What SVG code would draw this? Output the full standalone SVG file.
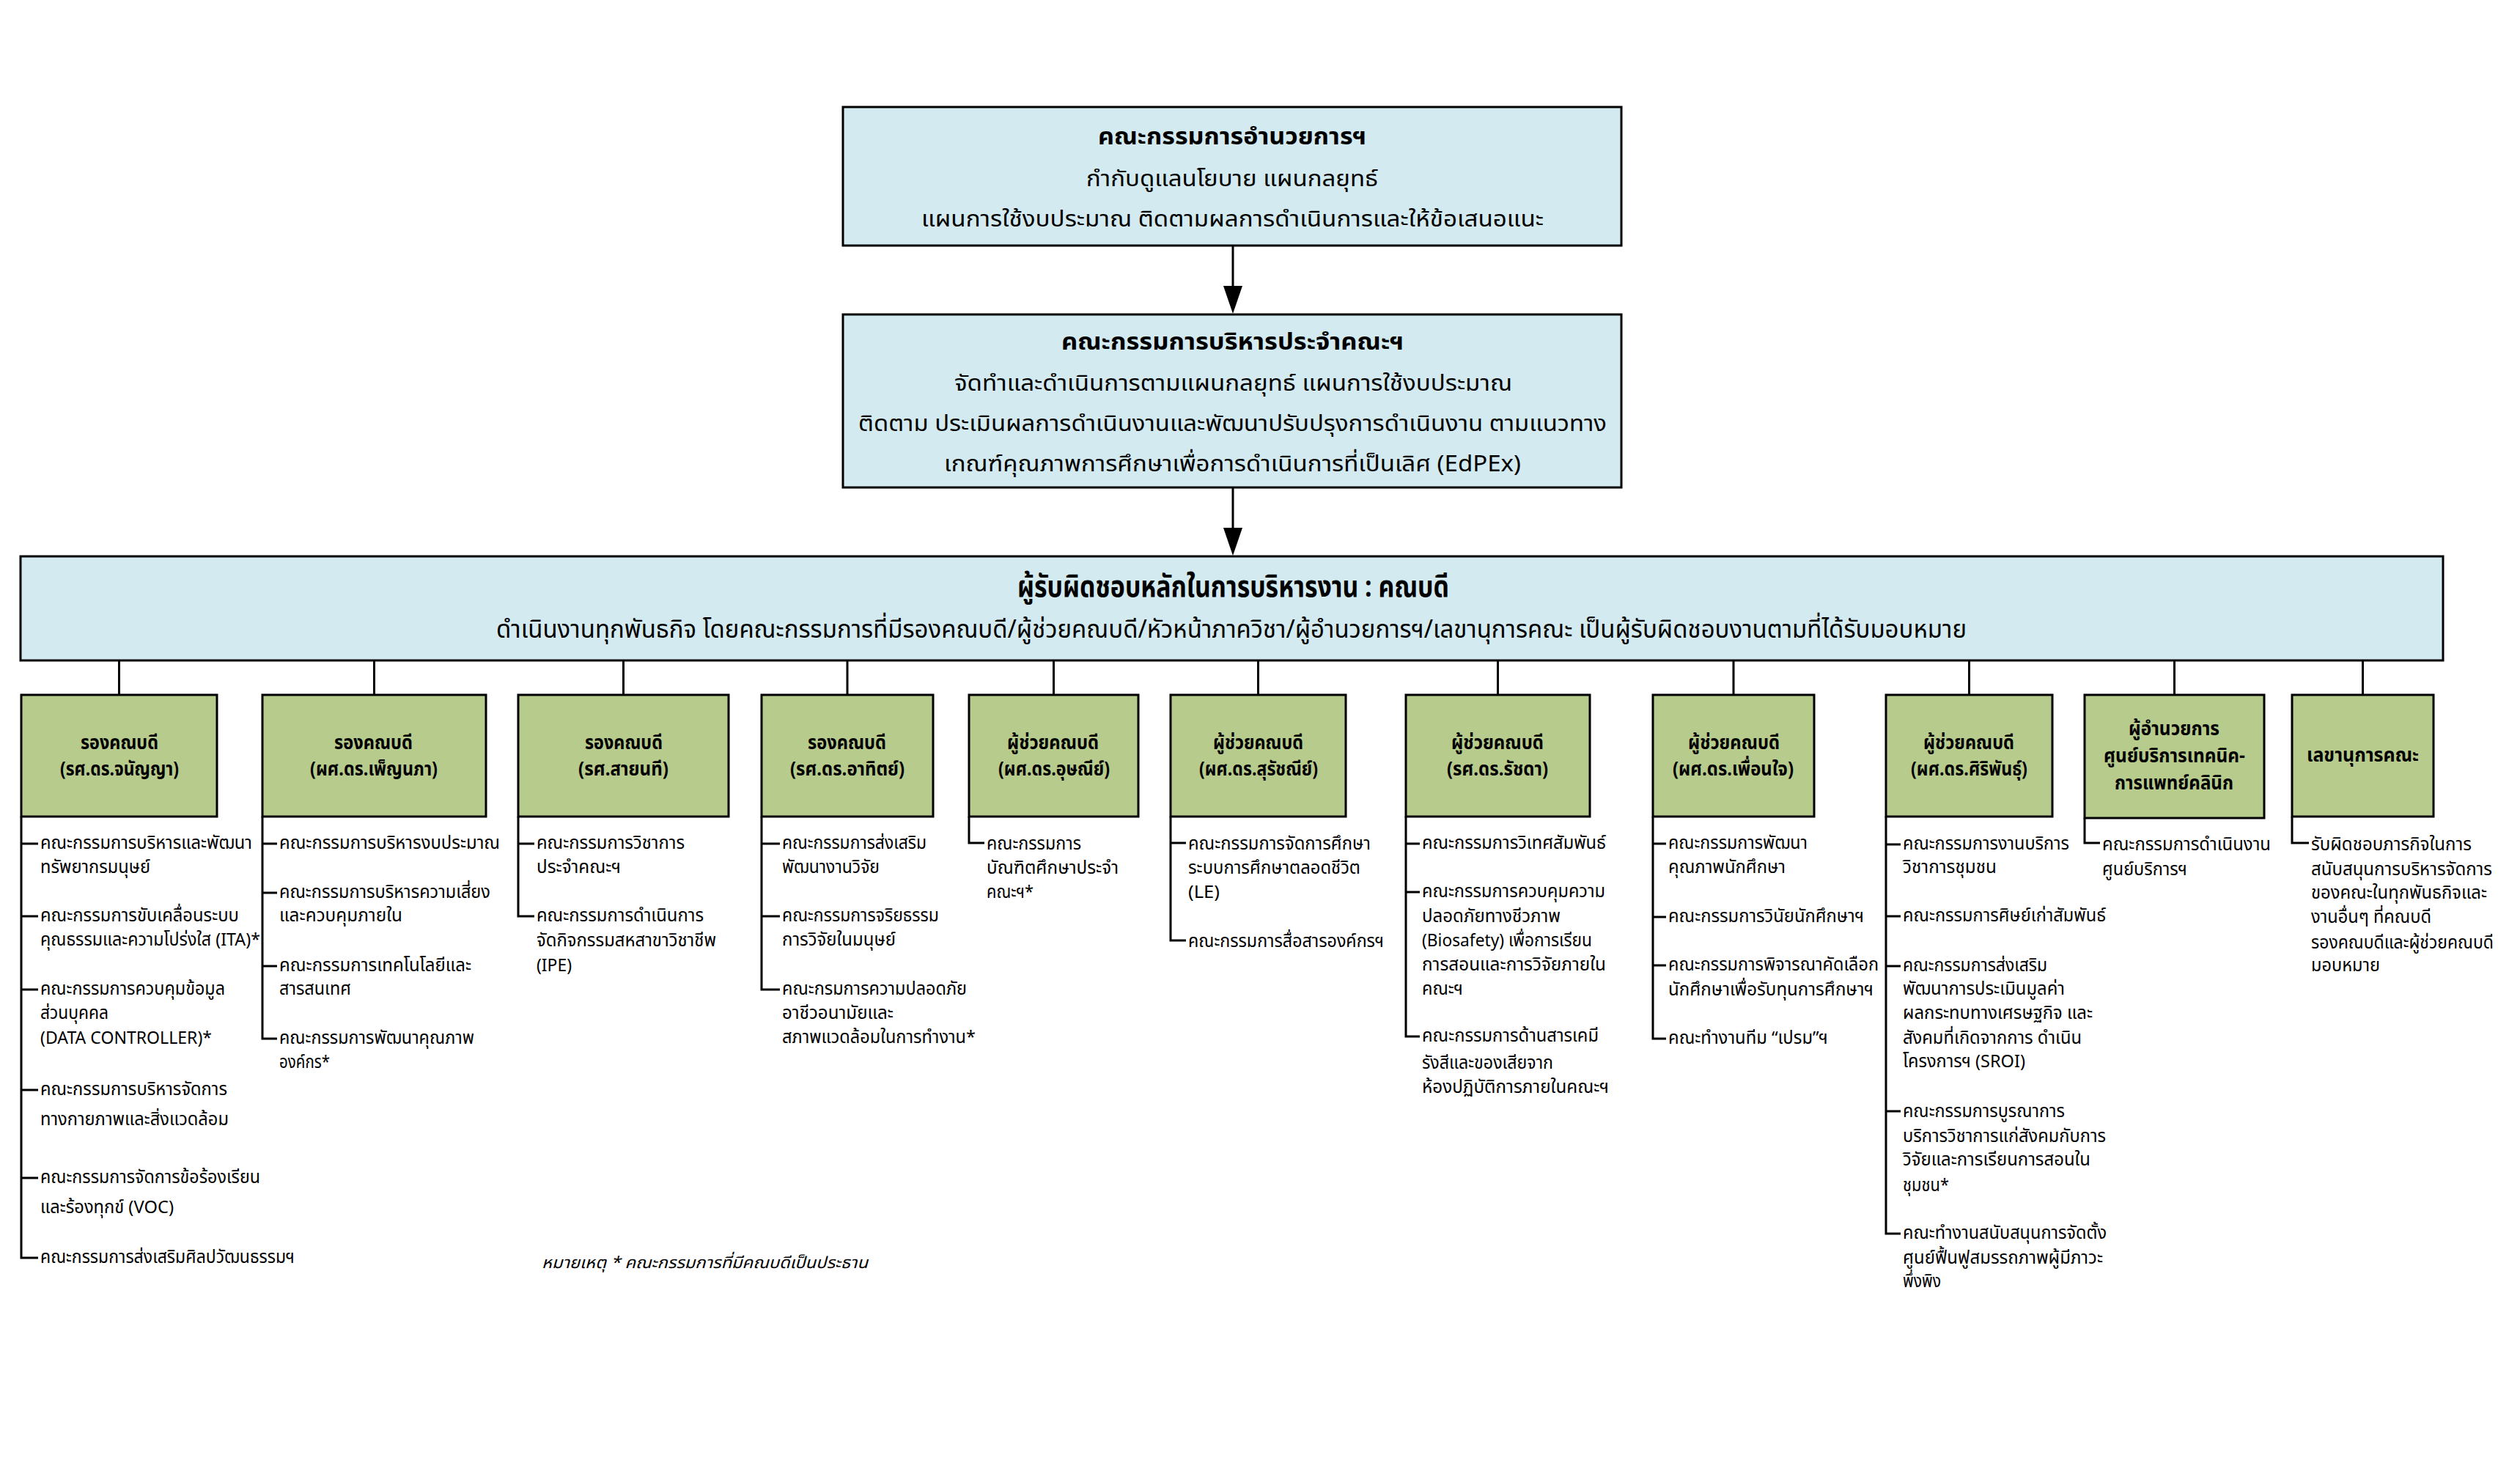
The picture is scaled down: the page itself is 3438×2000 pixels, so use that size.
<svg xmlns="http://www.w3.org/2000/svg" width="3438" height="2000" viewBox="0 0 3438 2000">
<style>
text{font-family:'Noto Sans Thai','Noto Sans Thai UI','Noto Sans','Noto Sans CJK SC',sans-serif;fill:#000}
.bl{fill:#d3eaf0;stroke:#000;stroke-width:3}
.gr{fill:#b7cb8d;stroke:#000;stroke-width:3}
.ln{stroke:#000;stroke-width:3;fill:none}
.h1{font-size:32px;font-weight:bold}
.h2{font-size:30px}
.wt{font-size:40px;font-weight:bold}
.ws{font-size:34px}
.lb{font-size:26px;font-weight:bold}
.t{font-size:24px}
.nt{font-size:22px;font-style:italic}
</style>
<rect width="3438" height="2000" fill="#fff"/>

<g id="connectors">
<line class="ln" x1="1682" y1="335" x2="1682" y2="392"/>
<path d="M1669,390 L1695,390 L1682,428 Z" fill="#000"/>
<line class="ln" x1="1682" y1="665" x2="1682" y2="722"/>
<path d="M1669,720 L1695,720 L1682,758 Z" fill="#000"/>
<g class="ln">
<line x1="162.5" y1="901" x2="162.5" y2="948"/>
<line x1="510.5" y1="901" x2="510.5" y2="948"/>
<line x1="850.5" y1="901" x2="850.5" y2="948"/>
<line x1="1156" y1="901" x2="1156" y2="948"/>
<line x1="1437.5" y1="901" x2="1437.5" y2="948"/>
<line x1="1716.5" y1="901" x2="1716.5" y2="948"/>
<line x1="2043.5" y1="901" x2="2043.5" y2="948"/>
<line x1="2365" y1="901" x2="2365" y2="948"/>
<line x1="2686.5" y1="901" x2="2686.5" y2="948"/>
<line x1="2966.5" y1="901" x2="2966.5" y2="948"/>
<line x1="3223.5" y1="901" x2="3223.5" y2="948"/>
</g>
<path class="ln" d="M29,1114 V1716 H52 M29,1151 H52 M29,1250 H52 M29,1350 H52 M29,1487 H52 M29,1607 H52"/>
<path class="ln" d="M358,1114 V1417 H378 M358,1151 H378 M358,1218 H378 M358,1318 H378"/>
<path class="ln" d="M707,1114 V1250 H729 M707,1151 H729"/>
<path class="ln" d="M1039,1114 V1350 H1064 M1039,1151 H1064 M1039,1250 H1064"/>
<path class="ln" d="M1322,1114 V1150 H1343"/>
<path class="ln" d="M1597,1114 V1283 H1618 M1597,1150 H1618"/>
<path class="ln" d="M1918,1114 V1414 H1937 M1918,1151 H1937 M1918,1217 H1937"/>
<path class="ln" d="M2255,1114 V1417 H2273 M2255,1151 H2273 M2255,1251 H2273 M2255,1317 H2273"/>
<path class="ln" d="M2573,1114 V1683 H2593 M2573,1152 H2593 M2573,1250 H2593 M2573,1318 H2593 M2573,1516 H2593"/>
<path class="ln" d="M2844,1116 V1150 H2865"/>
<path class="ln" d="M3127,1114 V1150 H3150"/>
</g>

<g id="n-director">
<rect class="bl" x="1150" y="146" width="1062" height="189"/>
<text class="h1" x="1498" y="197" textLength="366" lengthAdjust="spacingAndGlyphs">คณะกรรมการอำนวยการฯ</text>
<text class="h2" x="1482" y="254" textLength="398" lengthAdjust="spacingAndGlyphs">กำกับดูแลนโยบาย แผนกลยุทธ์</text>
<text class="h2" x="1257" y="309" textLength="849" lengthAdjust="spacingAndGlyphs">แผนการใช้งบประมาณ ติดตามผลการดำเนินการและให้ข้อเสนอแนะ</text>
</g>

<g id="n-exec">
<rect class="bl" x="1150" y="429" width="1062" height="236"/>
<text class="h1" x="1448" y="477" textLength="467" lengthAdjust="spacingAndGlyphs">คณะกรรมการบริหารประจำคณะฯ</text>
<text class="h2" x="1302" y="533" textLength="761" lengthAdjust="spacingAndGlyphs">จัดทำและดำเนินการตามแผนกลยุทธ์ แผนการใช้งบประมาณ</text>
<text class="h2" x="1171" y="588" textLength="1021" lengthAdjust="spacingAndGlyphs">ติดตาม ประเมินผลการดำเนินงานและพัฒนาปรับปรุงการดำเนินงาน ตามแนวทาง</text>
<text class="h2" x="1288" y="643" textLength="787" lengthAdjust="spacingAndGlyphs">เกณฑ์คุณภาพการศึกษาเพื่อการดำเนินการที่เป็นเลิศ (EdPEx)</text>
</g>

<g id="n-dean">
<rect class="bl" x="28" y="759" width="3305" height="142"/>
<text class="wt" x="1388" y="814" textLength="589" lengthAdjust="spacingAndGlyphs">ผู้รับผิดชอบหลักในการบริหารงาน : คณบดี</text>
<text class="ws" x="677" y="870" textLength="2006" lengthAdjust="spacingAndGlyphs">ดำเนินงานทุกพันธกิจ โดยคณะกรรมการที่มีรองคณบดี/ผู้ช่วยคณบดี/หัวหน้าภาควิชา/ผู้อำนวยการฯ/เลขานุการคณะ เป็นผู้รับผิดชอบงานตามที่ได้รับมอบหมาย</text>
</g>

<g id="n-c1">
<rect class="gr" x="29" y="948" width="267" height="166"/>
<text class="lb" x="110" y="1022" textLength="106" lengthAdjust="spacingAndGlyphs">รองคณบดี</text>
<text class="lb" x="82" y="1058" textLength="162" lengthAdjust="spacingAndGlyphs">(รศ.ดร.จนัญญา)</text>
<text class="t" x="55" y="1158" textLength="289" lengthAdjust="spacingAndGlyphs">คณะกรรมการบริหารและพัฒนา</text>
<text class="t" x="55" y="1191" textLength="150" lengthAdjust="spacingAndGlyphs">ทรัพยากรมนุษย์</text>
<text class="t" x="55" y="1257" textLength="271" lengthAdjust="spacingAndGlyphs">คณะกรรมการขับเคลื่อนระบบ</text>
<text class="t" x="55" y="1290" textLength="300" lengthAdjust="spacingAndGlyphs">คุณธรรมและความโปร่งใส (ITA)*</text>
<text class="t" x="55" y="1357" textLength="252" lengthAdjust="spacingAndGlyphs">คณะกรรมการควบคุมข้อมูล</text>
<text class="t" x="55" y="1390" textLength="93" lengthAdjust="spacingAndGlyphs">ส่วนบุคคล</text>
<text class="t" x="55" y="1424" textLength="234" lengthAdjust="spacingAndGlyphs">(DATA CONTROLLER)*</text>
<text class="t" x="55" y="1494" textLength="255" lengthAdjust="spacingAndGlyphs">คณะกรรมการบริหารจัดการ</text>
<text class="t" x="55" y="1535" textLength="257" lengthAdjust="spacingAndGlyphs">ทางกายภาพและสิ่งแวดล้อม</text>
<text class="t" x="55" y="1614" textLength="300" lengthAdjust="spacingAndGlyphs">คณะกรรมการจัดการข้อร้องเรียน</text>
<text class="t" x="55" y="1655" textLength="182" lengthAdjust="spacingAndGlyphs">และร้องทุกข์ (VOC)</text>
<text class="t" x="55" y="1723" textLength="347" lengthAdjust="spacingAndGlyphs">คณะกรรมการส่งเสริมศิลปวัฒนธรรมฯ</text>
</g>

<g id="n-c2">
<rect class="gr" x="358" y="948" width="305" height="166"/>
<text class="lb" x="456" y="1022" textLength="107" lengthAdjust="spacingAndGlyphs">รองคณบดี</text>
<text class="lb" x="423" y="1058" textLength="174" lengthAdjust="spacingAndGlyphs">(ผศ.ดร.เพ็ญนภา)</text>
<text class="t" x="381" y="1158" textLength="301" lengthAdjust="spacingAndGlyphs">คณะกรรมการบริหารงบประมาณ</text>
<text class="t" x="381" y="1225" textLength="288" lengthAdjust="spacingAndGlyphs">คณะกรรมการบริหารความเสี่ยง</text>
<text class="t" x="381" y="1257" textLength="168" lengthAdjust="spacingAndGlyphs">และควบคุมภายใน</text>
<text class="t" x="381" y="1325" textLength="262" lengthAdjust="spacingAndGlyphs">คณะกรรมการเทคโนโลยีและ</text>
<text class="t" x="381" y="1357" textLength="98" lengthAdjust="spacingAndGlyphs">สารสนเทศ</text>
<text class="t" x="381" y="1424" textLength="266" lengthAdjust="spacingAndGlyphs">คณะกรรมการพัฒนาคุณภาพ</text>
<text class="t" x="381" y="1457" textLength="69" lengthAdjust="spacingAndGlyphs">องค์กร*</text>
</g>

<g id="n-c3">
<rect class="gr" x="707" y="948" width="287" height="166"/>
<text class="lb" x="798" y="1022" textLength="106" lengthAdjust="spacingAndGlyphs">รองคณบดี</text>
<text class="lb" x="789" y="1058" textLength="123" lengthAdjust="spacingAndGlyphs">(รศ.สายนที)</text>
<text class="t" x="732" y="1158" textLength="202" lengthAdjust="spacingAndGlyphs">คณะกรรมการวิชาการ</text>
<text class="t" x="732" y="1191" textLength="115" lengthAdjust="spacingAndGlyphs">ประจำคณะฯ</text>
<text class="t" x="732" y="1257" textLength="228" lengthAdjust="spacingAndGlyphs">คณะกรรมการดำเนินการ</text>
<text class="t" x="732" y="1291" textLength="245" lengthAdjust="spacingAndGlyphs">จัดกิจกรรมสหสาขาวิชาชีพ</text>
<text class="t" x="732" y="1325" textLength="48" lengthAdjust="spacingAndGlyphs">(IPE)</text>
</g>

<g id="n-c4">
<rect class="gr" x="1039" y="948" width="234" height="166"/>
<text class="lb" x="1102" y="1022" textLength="107" lengthAdjust="spacingAndGlyphs">รองคณบดี</text>
<text class="lb" x="1078" y="1058" textLength="156" lengthAdjust="spacingAndGlyphs">(รศ.ดร.อาทิตย์)</text>
<text class="t" x="1067" y="1158" textLength="197" lengthAdjust="spacingAndGlyphs">คณะกรรมการส่งเสริม</text>
<text class="t" x="1067" y="1191" textLength="133" lengthAdjust="spacingAndGlyphs">พัฒนางานวิจัย</text>
<text class="t" x="1067" y="1257" textLength="214" lengthAdjust="spacingAndGlyphs">คณะกรรมการจริยธรรม</text>
<text class="t" x="1067" y="1290" textLength="155" lengthAdjust="spacingAndGlyphs">การวิจัยในมนุษย์</text>
<text class="t" x="1067" y="1357" textLength="252" lengthAdjust="spacingAndGlyphs">คณะกรมการความปลอดภัย</text>
<text class="t" x="1067" y="1390" textLength="152" lengthAdjust="spacingAndGlyphs">อาชีวอนามัยและ</text>
<text class="t" x="1067" y="1423" textLength="264" lengthAdjust="spacingAndGlyphs">สภาพแวดล้อมในการทำงาน*</text>
</g>

<g id="n-c5">
<rect class="gr" x="1322" y="948" width="231" height="166"/>
<text class="lb" x="1374" y="1022" textLength="125" lengthAdjust="spacingAndGlyphs">ผู้ช่วยคณบดี</text>
<text class="lb" x="1362" y="1058" textLength="152" lengthAdjust="spacingAndGlyphs">(ผศ.ดร.อุษณีย์)</text>
<text class="t" x="1346" y="1159" textLength="129" lengthAdjust="spacingAndGlyphs">คณะกรรมการ</text>
<text class="t" x="1346" y="1192" textLength="180" lengthAdjust="spacingAndGlyphs">บัณฑิตศึกษาประจำ</text>
<text class="t" x="1346" y="1225" textLength="64" lengthAdjust="spacingAndGlyphs">คณะฯ*</text>
</g>

<g id="n-c6">
<rect class="gr" x="1597" y="948" width="239" height="166"/>
<text class="lb" x="1655" y="1022" textLength="123" lengthAdjust="spacingAndGlyphs">ผู้ช่วยคณบดี</text>
<text class="lb" x="1636" y="1058" textLength="162" lengthAdjust="spacingAndGlyphs">(ผศ.ดร.สุรัชณีย์)</text>
<text class="t" x="1621" y="1159" textLength="249" lengthAdjust="spacingAndGlyphs">คณะกรรมการจัดการศึกษา</text>
<text class="t" x="1621" y="1192" textLength="235" lengthAdjust="spacingAndGlyphs">ระบบการศึกษาตลอดชีวิต</text>
<text class="t" x="1621" y="1225" textLength="43" lengthAdjust="spacingAndGlyphs">(LE)</text>
<text class="t" x="1621" y="1292" textLength="267" lengthAdjust="spacingAndGlyphs">คณะกรรมการสื่อสารองค์กรฯ</text>
</g>

<g id="n-c7">
<rect class="gr" x="1918" y="948" width="251" height="166"/>
<text class="lb" x="1980" y="1022" textLength="126" lengthAdjust="spacingAndGlyphs">ผู้ช่วยคณบดี</text>
<text class="lb" x="1974" y="1058" textLength="138" lengthAdjust="spacingAndGlyphs">(รศ.ดร.รัชดา)</text>
<text class="t" x="1940" y="1158" textLength="251" lengthAdjust="spacingAndGlyphs">คณะกรรมการวิเทศสัมพันธ์</text>
<text class="t" x="1940" y="1224" textLength="250" lengthAdjust="spacingAndGlyphs">คณะกรรมการควบคุมความ</text>
<text class="t" x="1940" y="1258" textLength="189" lengthAdjust="spacingAndGlyphs">ปลอดภัยทางชีวภาพ</text>
<text class="t" x="1940" y="1291" textLength="232" lengthAdjust="spacingAndGlyphs">(Biosafety) เพื่อการเรียน</text>
<text class="t" x="1940" y="1324" textLength="251" lengthAdjust="spacingAndGlyphs">การสอนและการวิจัยภายใน</text>
<text class="t" x="1940" y="1357" textLength="56" lengthAdjust="spacingAndGlyphs">คณะฯ</text>
<text class="t" x="1940" y="1421" textLength="241" lengthAdjust="spacingAndGlyphs">คณะกรรมการด้านสารเคมี</text>
<text class="t" x="1940" y="1458" textLength="179" lengthAdjust="spacingAndGlyphs">รังสีและของเสียจาก</text>
<text class="t" x="1940" y="1491" textLength="255" lengthAdjust="spacingAndGlyphs">ห้องปฏิบัติการภายในคณะฯ</text>
</g>

<g id="n-c8">
<rect class="gr" x="2255" y="948" width="220" height="166"/>
<text class="lb" x="2303" y="1022" textLength="125" lengthAdjust="spacingAndGlyphs">ผู้ช่วยคณบดี</text>
<text class="lb" x="2282" y="1058" textLength="165" lengthAdjust="spacingAndGlyphs">(ผศ.ดร.เพื่อนใจ)</text>
<text class="t" x="2276" y="1158" textLength="190" lengthAdjust="spacingAndGlyphs">คณะกรรมการพัฒนา</text>
<text class="t" x="2276" y="1191" textLength="160" lengthAdjust="spacingAndGlyphs">คุณภาพนักศึกษา</text>
<text class="t" x="2276" y="1258" textLength="267" lengthAdjust="spacingAndGlyphs">คณะกรรมการวินัยนักศึกษาฯ</text>
<text class="t" x="2276" y="1324" textLength="287" lengthAdjust="spacingAndGlyphs">คณะกรรมการพิจารณาคัดเลือก</text>
<text class="t" x="2276" y="1358" textLength="280" lengthAdjust="spacingAndGlyphs">นักศึกษาเพื่อรับทุนการศึกษาฯ</text>
<text class="t" x="2276" y="1424" textLength="218" lengthAdjust="spacingAndGlyphs">คณะทำงานทีม “เปรม”ฯ</text>
</g>

<g id="n-c9">
<rect class="gr" x="2573" y="948" width="227" height="166"/>
<text class="lb" x="2624" y="1022" textLength="124" lengthAdjust="spacingAndGlyphs">ผู้ช่วยคณบดี</text>
<text class="lb" x="2607" y="1058" textLength="159" lengthAdjust="spacingAndGlyphs">(ผศ.ดร.ศิริพันธุ์)</text>
<text class="t" x="2596" y="1159" textLength="227" lengthAdjust="spacingAndGlyphs">คณะกรรมการงานบริการ</text>
<text class="t" x="2596" y="1191" textLength="128" lengthAdjust="spacingAndGlyphs">วิชาการชุมชน</text>
<text class="t" x="2596" y="1257" textLength="277" lengthAdjust="spacingAndGlyphs">คณะกรรมการศิษย์เก่าสัมพันธ์</text>
<text class="t" x="2596" y="1325" textLength="197" lengthAdjust="spacingAndGlyphs">คณะกรรมการส่งเสริม</text>
<text class="t" x="2596" y="1357" textLength="221" lengthAdjust="spacingAndGlyphs">พัฒนาการประเมินมูลค่า</text>
<text class="t" x="2596" y="1390" textLength="259" lengthAdjust="spacingAndGlyphs">ผลกระทบทางเศรษฐกิจ และ</text>
<text class="t" x="2596" y="1424" textLength="244" lengthAdjust="spacingAndGlyphs">สังคมที่เกิดจากการ ดำเนิน</text>
<text class="t" x="2596" y="1456" textLength="167" lengthAdjust="spacingAndGlyphs">โครงการฯ (SROI)</text>
<text class="t" x="2596" y="1524" textLength="221" lengthAdjust="spacingAndGlyphs">คณะกรรมการบูรณาการ</text>
<text class="t" x="2596" y="1558" textLength="277" lengthAdjust="spacingAndGlyphs">บริการวิชาการแก่สังคมกับการ</text>
<text class="t" x="2596" y="1590" textLength="256" lengthAdjust="spacingAndGlyphs">วิจัยและการเรียนการสอนใน</text>
<text class="t" x="2596" y="1625" textLength="63" lengthAdjust="spacingAndGlyphs">ชุมชน*</text>
<text class="t" x="2596" y="1690" textLength="278" lengthAdjust="spacingAndGlyphs">คณะทำงานสนับสนุนการจัดตั้ง</text>
<text class="t" x="2596" y="1724" textLength="273" lengthAdjust="spacingAndGlyphs">ศูนย์ฟื้นฟูสมรรถภาพผู้มีภาวะ</text>
<text class="t" x="2596" y="1756" textLength="52" lengthAdjust="spacingAndGlyphs">พึ่งพิง</text>
</g>

<g id="n-c10">
<rect class="gr" x="2844" y="948" width="245" height="168"/>
<text class="lb" x="2904" y="1003" textLength="124" lengthAdjust="spacingAndGlyphs">ผู้อำนวยการ</text>
<text class="lb" x="2870" y="1040" textLength="193" lengthAdjust="spacingAndGlyphs">ศูนย์บริการเทคนิค-</text>
<text class="lb" x="2885" y="1077" textLength="162" lengthAdjust="spacingAndGlyphs">การแพทย์คลินิก</text>
<text class="t" x="2868" y="1160" textLength="230" lengthAdjust="spacingAndGlyphs">คณะกรรมการดำเนินงาน</text>
<text class="t" x="2868" y="1194" textLength="116" lengthAdjust="spacingAndGlyphs">ศูนย์บริการฯ</text>
</g>

<g id="n-c11">
<rect class="gr" x="3127" y="948" width="193" height="166"/>
<text class="lb" x="3147" y="1039" textLength="153" lengthAdjust="spacingAndGlyphs">เลขานุการคณะ</text>
<text class="t" x="3153" y="1160" textLength="219" lengthAdjust="spacingAndGlyphs">รับผิดชอบภารกิจในการ</text>
<text class="t" x="3153" y="1194" textLength="247" lengthAdjust="spacingAndGlyphs">สนับสนุนการบริหารจัดการ</text>
<text class="t" x="3153" y="1226" textLength="240" lengthAdjust="spacingAndGlyphs">ของคณะในทุกพันธกิจและ</text>
<text class="t" x="3153" y="1259" textLength="164" lengthAdjust="spacingAndGlyphs">งานอื่นๆ ที่คณบดี</text>
<text class="t" x="3153" y="1294" textLength="249" lengthAdjust="spacingAndGlyphs">รองคณบดีและผู้ช่วยคณบดี</text>
<text class="t" x="3153" y="1325" textLength="94" lengthAdjust="spacingAndGlyphs">มอบหมาย</text>
</g>

<g id="note">
<text class="nt" x="739" y="1730" textLength="445" lengthAdjust="spacingAndGlyphs">หมายเหตุ * คณะกรรมการที่มีคณบดีเป็นประธาน</text>
</g>
</svg>
